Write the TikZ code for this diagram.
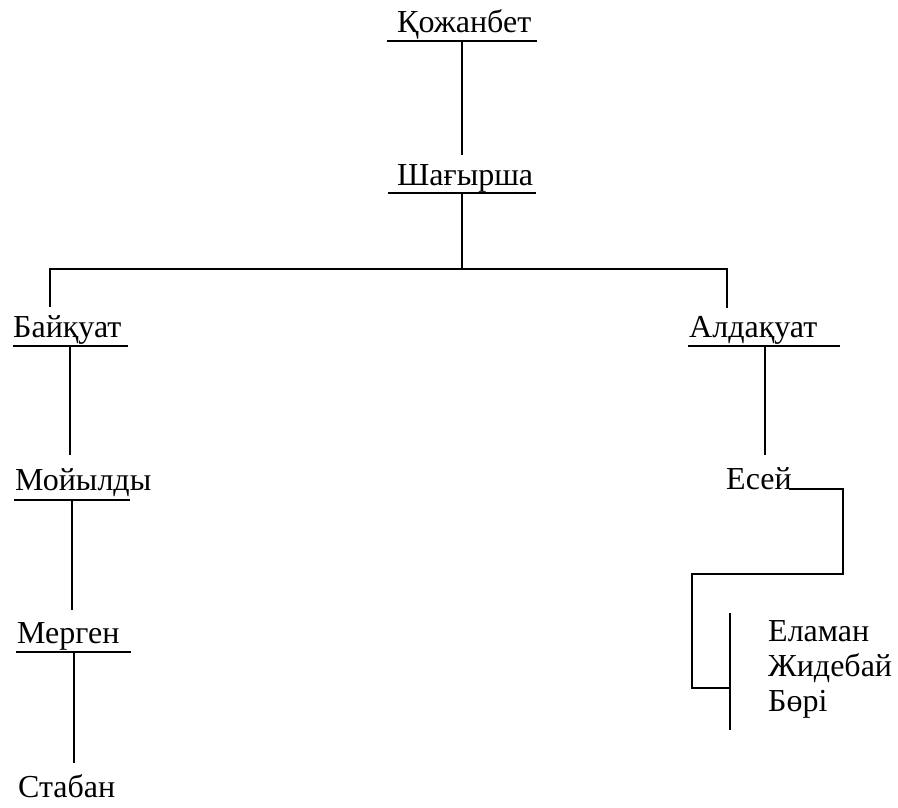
\documentclass[tikz,border=0pt]{standalone}
\usepackage{fontspec}
\setmainfont{Liberation Serif}
\begin{document}
\begin{tikzpicture}[x=1pt,y=-1pt,
  person/.style={anchor=base west,inner sep=0pt,font=\fontsize{32}{36}\selectfont},
  ln/.style={line width=2pt}]
\useasboundingbox (0,0) rectangle (898,807);
% names
\node[person] (kozh) at (397,32) {Қожанбет};
\node[person] (shag) at (397,185) {Шағырша};
\node[person] (baik) at (13,337) {Байқуат};
\node[person] (alda) at (689,337) {Алдақуат};
\node[person] (moiy) at (15,490) {Мойылды};
\node[person] (merg) at (17,643) {Мерген};
\node[person] (stab) at (18,797) {Стабан};
\node[person] (esei) at (726,489) {Есей};
\node[person] (elam) at (768,641) {Еламан};
\node[person] (zhid) at (768,676) {Жидебай};
\node[person] (bori) at (768,711) {Бөрі};
% coordinates
\coordinate (k1) at (387,41); \coordinate (k2) at (537,41); \coordinate (kd) at (462,41);
\coordinate (su) at (462,155);
\coordinate (s1) at (388,193); \coordinate (s2) at (536,193); \coordinate (sd) at (462,193);
\coordinate (hj) at (462,269);
\coordinate (hl) at (50,269); \coordinate (hr) at (727,269);
\coordinate (bu) at (50,307); \coordinate (au) at (727,308);
\coordinate (b1) at (13,346); \coordinate (b2) at (128,346); \coordinate (bd) at (70,346);
\coordinate (bm) at (70,455);
\coordinate (a1) at (688,346); \coordinate (a2) at (840,346); \coordinate (ad) at (765,346);
\coordinate (ae) at (765,455);
\coordinate (m1) at (14,500); \coordinate (m2) at (130,500); \coordinate (md) at (72,500);
\coordinate (mm) at (72,610);
\coordinate (r1) at (16,652); \coordinate (r2) at (131,652); \coordinate (rd) at (74,652);
\coordinate (rs) at (74,763);
\coordinate (e1) at (789,489); \coordinate (e2) at (843,489); \coordinate (e3) at (843,574);
\coordinate (e4) at (692,574); \coordinate (e5) at (692,688); \coordinate (e6) at (730,688);
\coordinate (vt) at (730,613); \coordinate (vb) at (730,730);
% lines
\draw[ln] (k1) -- (k2);
\draw[ln] (kd) -- (su);
\draw[ln] (s1) -- (s2);
\draw[ln] (sd) -- (hj);
\draw[ln] (bu) -- (hl) -- (hr) -- (au);
\draw[ln] (b1) -- (b2);
\draw[ln] (bd) -- (bm);
\draw[ln] (a1) -- (a2);
\draw[ln] (ad) -- (ae);
\draw[ln] (m1) -- (m2);
\draw[ln] (md) -- (mm);
\draw[ln] (r1) -- (r2);
\draw[ln] (rd) -- (rs);
\draw[ln] (e1) -- (e2) -- (e3) -- (e4) -- (e5) -- (e6);
\draw[ln] (vt) -- (vb);
\end{tikzpicture}
\end{document}
